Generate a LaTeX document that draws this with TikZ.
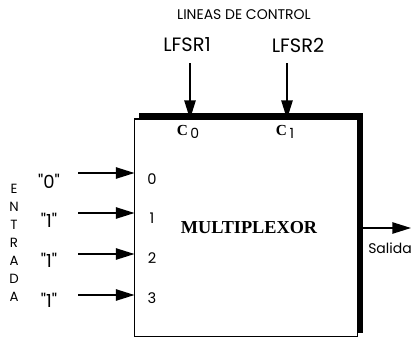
\documentclass[tikz,border=0pt]{standalone}
\usepackage{fontspec}
\setmainfont{Liberation Serif}
\newfontfamily\gothic{Poppins}
\usetikzlibrary{arrows.meta}
\tikzset{
  sig/.style={line width=1.2pt,-{Triangle[length=14pt,width=8.5pt]}},
  lbl/.style={font=\gothic\fontsize{10.5}{12}\selectfont,inner sep=0pt},
}
\begin{document}
\begin{tikzpicture}[x=0.75pt,y=-0.75pt]
\useasboundingbox (0,0) rectangle (414,340);
% coordinates
\coordinate (A0) at (78,173);%
\coordinate (A1) at (78,213);%
\coordinate (A2) at (78,254);%
\coordinate (A3) at (78,295);%
\coordinate (T0) at (190,63);%
\coordinate (T1) at (287,63);%
\coordinate (Out) at (411,228);%
% box and shadow
\draw[line width=3.8pt] (139,116) -- (360.5,116) -- (360.5,333);
\node (mux) at (246,227.75) [draw,fill=white,line width=0.8pt,inner sep=0pt,outer sep=0pt,
  minimum width=167.25pt,minimum height=163.1pt] {};
\node (mx) at (249,228) [font=\bfseries\fontsize{13.7}{15}\selectfont] {MULTIPLEXOR};
% control lines
\node at (244,15) [lbl,font=\gothic\fontsize{10.5}{12}\selectfont] {LINEAS DE CONTROL};
\node (l1) at (187,45) [lbl,font=\gothic\fontsize{14.5}{16}\selectfont] {LFSR1};
\node (l2) at (298,45) [lbl,font=\gothic\fontsize{14.5}{16}\selectfont] {LFSR2};
\draw[sig] (T0) -- (T0 |- mux.north);
\draw[sig] (T1) -- (T1 |- mux.north);
\node at (188,132) {\fontsize{11.5}{12}\selectfont\textbf{C}\,\raisebox{-2.5pt}{\gothic\fontsize{10.5}{12}\selectfont 0}};
\node at (285,132) {\fontsize{11.5}{12}\selectfont\textbf{C}\,\raisebox{-2.5pt}{\gothic\fontsize{10.5}{12}\selectfont 1}};
% inputs
\foreach \i/\v/\y in {0/0/179,1/1/218,2/1/258,3/1/298}{
  \draw[sig] (A\i) -- (A\i -| mux.west);
  \node at (49,\y+2) [lbl,font=\gothic\fontsize{13.5}{15}\selectfont] {"\v"};
  \node at (152,\y) [lbl,font=\gothic\fontsize{11}{12}\selectfont] {\i};
}
\foreach \c [count=\k] in {E,N,T,R,A,D,A}
  \node at (14,171+18*\k) [lbl,font=\gothic\fontsize{10}{11}\selectfont] {\c};
% output
\draw[sig] (mux.east |- mx) -- (Out);
\node at (390,248) [lbl] {Salida};
\end{tikzpicture}
\end{document}
